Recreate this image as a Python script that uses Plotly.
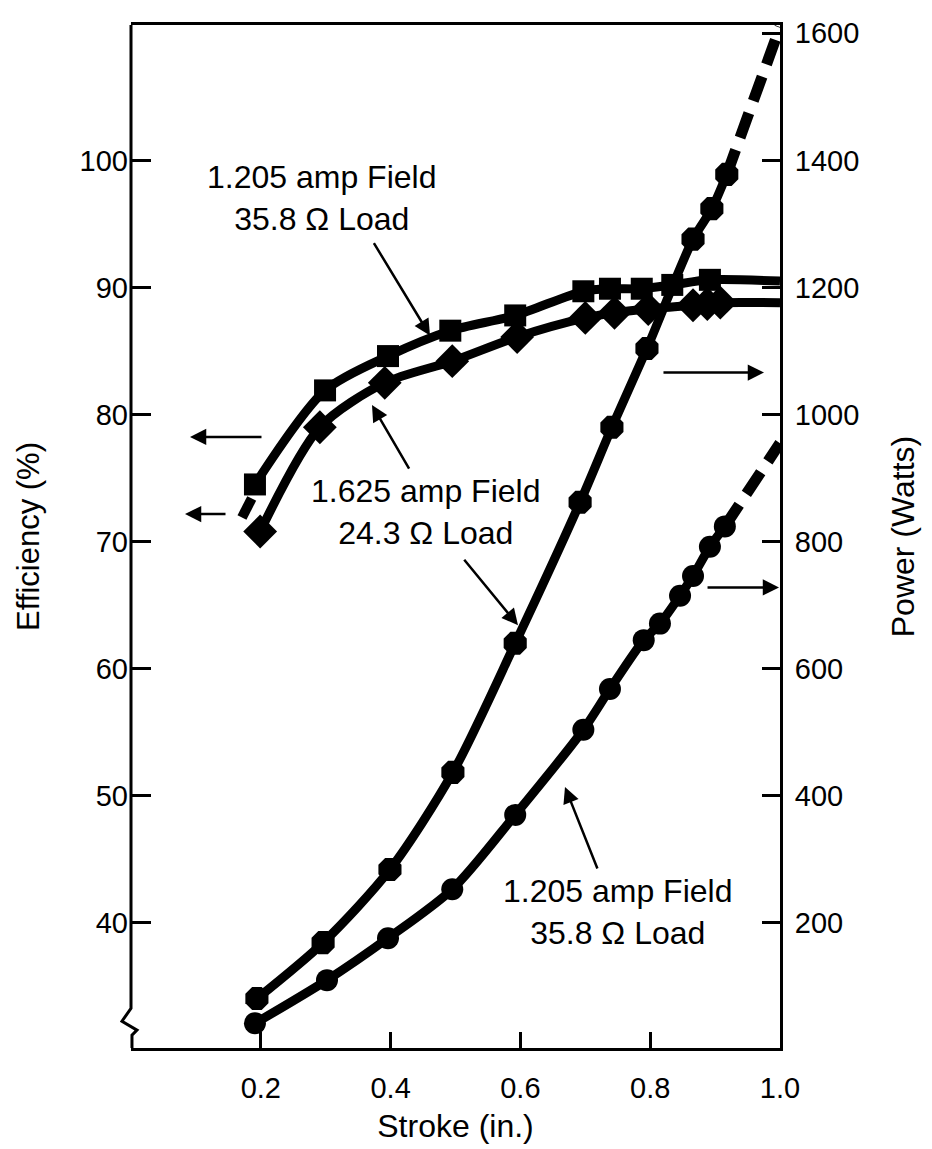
import plotly.graph_objects as go

# ---------------- data ----------------
# Efficiency, 1.205 amp field, 35.8 ohm load (squares)
eff_sq_x = [0.191, 0.299, 0.396, 0.492, 0.592, 0.697, 0.738, 0.787, 0.834, 0.892]
eff_sq_y = [74.5, 81.9, 84.6, 86.6, 87.8, 89.7, 89.9, 89.9, 90.2, 90.6]
eff_sq_end_x = [0.892, 1.0]
eff_sq_end_y = [90.6, 90.5]
eff_sq_ext_x = [0.186, 0.171]
eff_sq_ext_y = [73.4, 71.9]

# Efficiency, 1.625 amp field, 24.3 ohm load (diamonds)
eff_di_x = [0.199, 0.291, 0.391, 0.495, 0.595, 0.700, 0.745, 0.797, 0.866, 0.888, 0.908]
eff_di_y = [70.8, 79.0, 82.5, 84.2, 86.1, 87.6, 88.0, 88.3, 88.6, 88.7, 88.8]
eff_di_end_x = [0.908, 1.0]
eff_di_end_y = [88.8, 88.8]

# Power, 1.625 amp field, 24.3 ohm load (octagons)
pw_hi_x = [0.194, 0.296, 0.399, 0.496, 0.592, 0.692, 0.741, 0.795, 0.866, 0.895, 0.918]
pw_hi_y = [81, 169, 284, 437, 640, 862, 980, 1104, 1276, 1324, 1378]
pw_hi_ext_x = [0.918, 1.0]
pw_hi_ext_y = [1378, 1610]

# Power, 1.205 amp field, 35.8 ohm load (circles)
pw_lo_x = [0.191, 0.302, 0.396, 0.495, 0.592, 0.697, 0.738, 0.790, 0.815, 0.846, 0.866, 0.892, 0.915]
pw_lo_y = [42, 110, 176, 253, 370, 504, 568, 645, 671, 715, 746, 792, 824]
pw_lo_ext_x = [0.915, 1.0]
pw_lo_ext_y = [824, 955]

x_ticks = [0.2, 0.4, 0.6, 0.8, 1.0]
x_tick_text = ["0.2", "0.4", "0.6", "0.8", "1.0"]
eff_ticks = [40, 50, 60, 70, 80, 90, 100]
pw_ticks = [200, 400, 600, 800, 1000, 1200, 1400, 1600]

label_top = "1.205 amp Field<br>35.8 Ω Load"
label_mid = "1.625 amp Field<br>24.3 Ω Load"
label_bot = "1.205 amp Field<br>35.8 Ω Load"

# ---------------- figure ----------------
FONT = "Liberation Sans, Arial, Helvetica, sans-serif"
LW = 9
fig = go.Figure()


def line(x, y, yaxis="y", dash="solid", width=LW):
    fig.add_trace(go.Scatter(x=x, y=y, mode="lines", yaxis=yaxis,
                             line=dict(color="black", width=width, dash=dash,
                                       shape="spline", smoothing=0.8),
                             hoverinfo="skip"))


def marks(x, y, symbol, size, yaxis="y"):
    fig.add_trace(go.Scatter(x=x, y=y, mode="markers", yaxis=yaxis,
                             marker=dict(symbol=symbol, size=size, color="black",
                                         line=dict(width=0))))


# efficiency curves
line(eff_sq_x + eff_sq_end_x[1:], eff_sq_y + eff_sq_end_y[1:])
line(eff_sq_ext_x, eff_sq_ext_y, width=10)
line(eff_di_x + eff_di_end_x[1:], eff_di_y + eff_di_end_y[1:])
# power curves
line(pw_hi_x, pw_hi_y, yaxis="y2")
line(pw_hi_ext_x, pw_hi_ext_y, yaxis="y2", dash="26px,13px", width=11)
line(pw_lo_x, pw_lo_y, yaxis="y2")
line(pw_lo_ext_x, pw_lo_ext_y, yaxis="y2", dash="26px,13px", width=11)

marks(eff_sq_x, eff_sq_y, "square", 22)
marks(eff_di_x, eff_di_y, "diamond", 26)
marks(pw_hi_x, pw_hi_y, "octagon", 25, yaxis="y2")
marks(pw_lo_x, pw_lo_y, "circle", 22, yaxis="y2")

EFF_RANGE = [30.16, 110.65]
PW_RANGE = [200 + (EFF_RANGE[0] - 40) * 20, 200 + (EFF_RANGE[1] - 40) * 20]

# page has an 8px body margin: figure placed at (8, 8)
fig.update_layout(
    width=924, height=1141,
    margin=dict(l=123, r=152, t=9, b=101),
    paper_bgcolor="white", plot_bgcolor="white",
    showlegend=False,
    font=dict(family=FONT, size=29, color="black"),
    xaxis=dict(range=[0, 1.0], tickvals=x_ticks, ticktext=x_tick_text,
               showgrid=False, zeroline=False, showline=True, linewidth=3,
               linecolor="black", mirror=True, ticks="inside", ticklen=16,
               tickwidth=3, tickcolor="black", ticklabelstandoff=12,
               title=dict(text="Stroke (in.)", standoff=12,
                          font=dict(size=32))),
    yaxis=dict(range=EFF_RANGE, tickvals=eff_ticks, showgrid=False,
               zeroline=False, showline=False, ticks="inside", ticklen=20,
               tickwidth=3, tickcolor="black", ticklabelstandoff=2,
               title=dict(text="Efficiency (%)", standoff=30,
                          font=dict(size=31))),
    yaxis2=dict(range=PW_RANGE, tickvals=pw_ticks, overlaying="y",
                side="right", showgrid=False, zeroline=False, showline=True,
                linewidth=3, linecolor="black", ticks="inside", ticklen=18,
                tickwidth=3, tickcolor="black", ticklabelstandoff=6,
                title=dict(text="Power (Watts)", standoff=34,
                           font=dict(size=32))),
)

# left axis with break symbol (paper coordinates; page pixels -> paper)
PH = 1031.0
PWD = 649.0


def px(xp, yp):
    return (xp - 131) / PWD, (1048 - yp) / PH


pts = [(131, 17), (131, 1008), (122, 1021), (137, 1030), (132, 1035), (132, 1048)]
path = "M " + " L ".join(f"{px(a, b)[0]:.4f},{px(a, b)[1]:.4f}" for a, b in pts)
fig.add_shape(type="path", path=path, xref="paper", yref="paper",
              line=dict(color="black", width=3))

# text labels
for txt, x, y in [(label_top, 0.294, 97.07), (label_mid, 0.453, 72.32),
                  (label_bot, 0.749, 40.86)]:
    fig.add_annotation(x=x, y=y, text=txt, showarrow=False, xref="x", yref="y",
                       font=dict(size=32, family=FONT), align="center")

# arrows (tip in data coords, tail offset in px)
arrows = [
    (0.4607, 86.21, -57, -94, "y"),
    (0.3713, 80.75, 38, 65, "y"),
    (0.5963, 63.42, -55, -67, "y"),
    (0.6687, 50.70, 33, 83, "y"),
    (0.0909, 78.24, 73, 0, "y"),
    (0.0832, 72.17, 42, 0, "y"),
    (0.9753, 1066, -102, 0, "y2"),
    (0.9985, 728, -73, 0, "y2"),
]
for x, y, ax, ay, yr in arrows:
    fig.add_annotation(x=x, y=y, xref="x", yref=yr, text="", showarrow=True,
                       ax=ax, ay=ay, arrowhead=2, arrowsize=1.3, arrowwidth=2.5,
                       arrowcolor="black", standoff=0)

fig.write_html("out.html")
